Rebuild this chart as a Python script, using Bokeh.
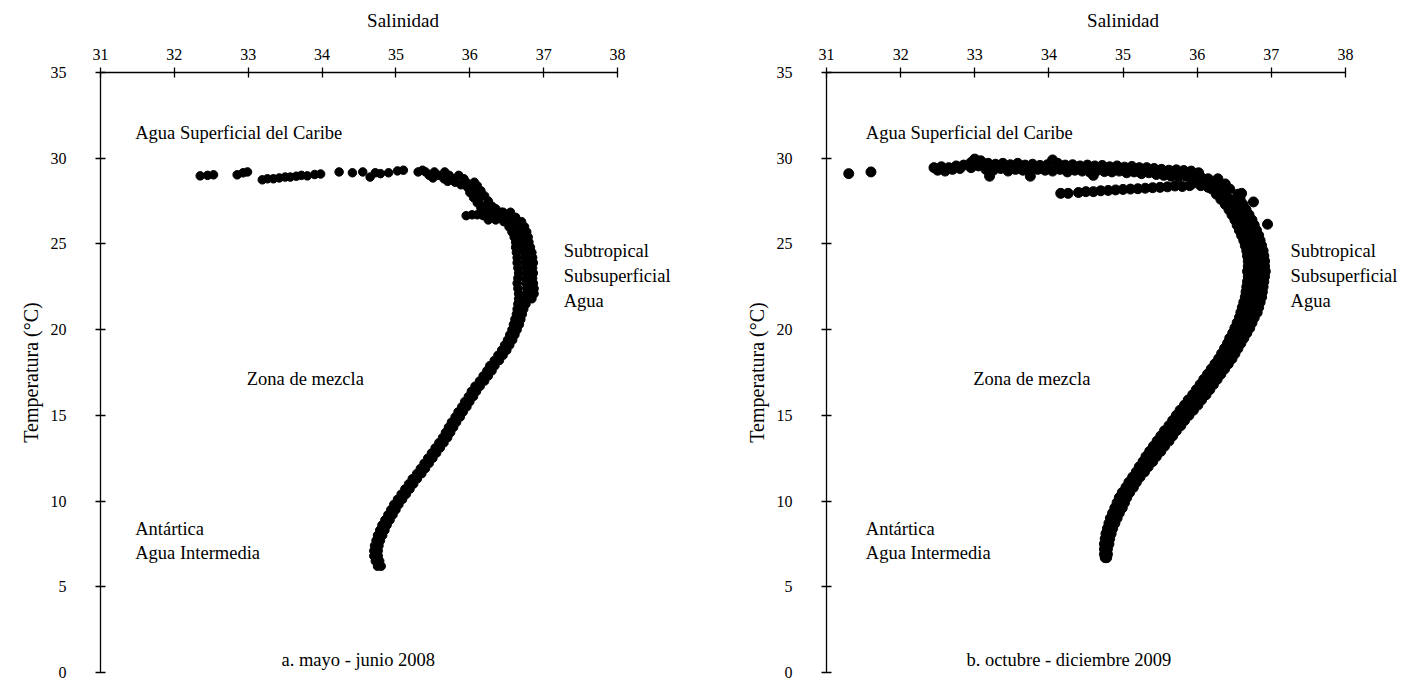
from bokeh.plotting import figure
from bokeh.models import FixedTicker, Range1d
from bokeh.layouts import row
from bokeh.core.properties import value
from bokeh.embed import file_html
from bokeh.resources import INLINE

FONT = "Liberation Serif"

# ---------------- axis ticks ----------------
sal_ticks = [31, 32, 33, 34, 35, 36, 37, 38]
temp_ticks = [0, 5, 10, 15, 20, 25, 30, 35]

# ---------------- panel a: mayo - junio 2008 ----------------
sal_a_surface = [32.35, 32.45, 32.53, 32.85, 32.93, 32.99, 33.19, 33.26, 33.34, 33.42,
                 33.50, 33.57, 33.65, 33.72, 33.80, 33.90, 33.98, 34.23, 34.41, 34.55,
                 34.65, 34.72, 34.79, 34.90, 35.02, 35.10]
temp_a_surface = [28.97, 29.00, 29.03, 29.03, 29.15, 29.20, 28.74, 28.80, 28.80, 28.85,
                  28.90, 28.90, 28.95, 29.00, 28.97, 29.05, 29.08, 29.20, 29.15, 29.20,
                  28.90, 29.15, 29.10, 29.15, 29.26, 29.30]

sal_a_upper = [35.30, 35.40, 35.52, 35.66, 35.36, 35.45, 35.58, 35.72, 35.85, 35.65,
               35.78, 35.92, 35.80, 35.95, 36.06, 35.95, 36.10, 36.03, 36.15, 36.08,
               36.20, 36.12, 36.25, 36.18, 36.30, 36.25, 36.36,
               35.50, 35.70, 35.88, 35.98, 36.00, 36.05, 36.10, 36.15, 36.35, 36.42]
temp_a_upper = [29.20, 29.20, 29.20, 29.20, 29.30, 29.00, 29.00, 29.00, 29.00, 28.80,
                28.80, 28.80, 28.60, 28.60, 28.60, 28.40, 28.40, 28.10, 28.10, 27.80,
                27.80, 27.50, 27.50, 27.20, 27.20, 26.90, 26.90,
                28.85, 28.65, 28.45, 28.25, 28.00, 27.70, 27.40, 27.10, 27.05, 26.85]

sal_a_shoulder = [35.95, 36.03, 36.10, 36.18, 36.30, 36.40, 36.50, 36.62,
                  36.25, 36.35, 36.45, 36.55, 36.45, 36.55]
temp_a_shoulder = [26.65, 26.70, 26.70, 26.65, 26.60, 26.60, 26.60, 26.55,
                   26.40, 26.40, 26.40, 26.40, 26.85, 26.85]

temp_a_core = [21.8, 22.1, 22.4, 22.7, 23.0, 23.3, 23.6, 23.9, 24.2, 24.5,
               24.8, 25.1, 25.4, 25.7, 26.0, 26.3]
sal_a_core_l = [36.66, 36.66, 36.65, 36.64, 36.65, 36.66, 36.65, 36.64, 36.64, 36.63,
                36.62, 36.62, 36.60, 36.57, 36.53, 36.46]
sal_a_core_m = [36.76, 36.77, 36.77, 36.76, 36.76, 36.77, 36.76, 36.75, 36.75, 36.74,
                36.72, 36.71, 36.70, 36.68, 36.64, 36.58]
sal_a_core_r = [36.84, 36.87, 36.87, 36.86, 36.85, 36.86, 36.85, 36.86, 36.85, 36.84,
                36.82, 36.80, 36.79, 36.77, 36.74, 36.70]

temp_a_curve = [6.2, 6.5, 6.8, 7.1, 7.4, 7.7, 8.0, 8.3, 8.6, 8.9,
                9.2, 9.5, 9.8, 10.1, 10.4, 10.7, 11.0, 11.3, 11.6, 11.9,
                12.2, 12.5, 12.8, 13.1, 13.4, 13.7, 14.0, 14.3, 14.6, 14.9,
                15.2, 15.5, 15.8, 16.1, 16.4, 16.7, 17.0, 17.3, 17.6, 17.9,
                18.2, 18.5, 18.8, 19.1, 19.4, 19.7, 20.0, 20.3, 20.6, 20.9,
                21.2, 21.5]
sal_a_left = [34.75, 34.72, 34.70, 34.70, 34.71, 34.73, 34.75, 34.78, 34.81, 34.85,
              34.89, 34.93, 34.97, 35.02, 35.07, 35.12, 35.17, 35.22, 35.28, 35.33,
              35.38, 35.43, 35.48, 35.53, 35.58, 35.63, 35.67, 35.71, 35.75, 35.80,
              35.84, 35.89, 35.93, 35.98, 36.02, 36.07, 36.13, 36.18, 36.23, 36.27,
              36.33, 36.38, 36.43, 36.47, 36.51, 36.54, 36.57, 36.59, 36.61, 36.63,
              36.64, 36.65]
sal_a_right = [34.80, 34.78, 34.76, 34.76, 34.77, 34.79, 34.82, 34.85, 34.88, 34.92,
               34.96, 35.00, 35.04, 35.09, 35.14, 35.19, 35.24, 35.29, 35.35, 35.40,
               35.45, 35.50, 35.55, 35.60, 35.65, 35.70, 35.74, 35.78, 35.82, 35.87,
               35.91, 35.96, 36.00, 36.05, 36.09, 36.14, 36.20, 36.25, 36.30, 36.34,
               36.40, 36.45, 36.50, 36.54, 36.58, 36.61, 36.64, 36.67, 36.69, 36.71,
               36.73, 36.76]

# ---------------- panel b: octubre - diciembre 2009 ----------------
sal_b_isolated = [31.30, 31.60]
temp_b_isolated = [29.10, 29.20]

sal_b_band_hi = [32.45, 32.55, 32.65, 32.75, 32.85, 32.95, 33.00, 33.08, 33.18, 33.28,
                 33.38, 33.48, 33.58, 33.68, 33.78, 33.88, 33.98, 34.05, 34.12, 34.22,
                 34.32, 34.42, 34.52, 34.62, 34.72, 34.82, 34.92, 35.02, 35.12, 35.22,
                 35.32, 35.42, 35.52, 35.62, 35.72, 35.82, 35.92, 36.02]
temp_b_band_hi = [29.45, 29.50, 29.45, 29.55, 29.60, 29.75, 29.95, 29.85, 29.70, 29.65,
                  29.70, 29.62, 29.70, 29.60, 29.65, 29.58, 29.62, 29.90, 29.70, 29.60,
                  29.62, 29.55, 29.60, 29.55, 29.58, 29.50, 29.55, 29.48, 29.52, 29.45,
                  29.45, 29.40, 29.35, 29.30, 29.32, 29.28, 29.25, 29.15]
sal_b_band_lo = [32.50, 32.60, 32.70, 32.80, 32.95, 33.05, 33.15, 33.20, 33.25, 33.35,
                 33.45, 33.55, 33.65, 33.75, 33.75, 33.85, 33.95, 34.05, 34.15, 34.25,
                 34.35, 34.45, 34.55, 34.60, 34.65, 34.75, 34.85, 34.95, 35.05, 35.15,
                 35.25, 35.35, 35.45, 35.55, 35.65, 35.75, 35.85, 35.95, 36.05, 36.12]
temp_b_band_lo = [29.30, 29.25, 29.35, 29.40, 29.45, 29.55, 29.35, 28.95, 29.30, 29.40,
                  29.25, 29.35, 29.30, 29.25, 28.95, 29.35, 29.30, 29.25, 29.35, 29.20,
                  29.30, 29.25, 29.20, 29.00, 29.28, 29.22, 29.20, 29.25, 29.15, 29.20,
                  29.10, 29.15, 29.05, 29.00, 28.95, 28.90, 28.95, 28.85, 28.90, 28.75]

sal_b_low = [34.16, 34.26, 34.40, 34.50, 34.60, 34.70, 34.80, 34.90, 35.00, 35.10,
             35.20, 35.30, 35.40, 35.50, 35.60, 35.70, 35.80, 35.90]
temp_b_low = [27.95, 27.95, 28.00, 28.05, 28.05, 28.10, 28.12, 28.15, 28.18, 28.20,
              28.22, 28.25, 28.28, 28.30, 28.33, 28.38, 28.35, 28.40]

sal_b_extra = [36.00, 36.10, 36.20, 35.95, 36.05, 36.15, 36.25, 36.30, 36.60, 36.76, 36.95]
temp_b_extra = [28.70, 28.60, 28.50, 28.55, 28.40, 28.30, 28.20, 28.00, 27.95, 27.45, 26.15]

temp_b_curve = [28.8, 28.5, 28.2, 27.9, 27.6,
                27.3, 27.0, 26.7, 26.4, 26.1,
                25.8, 25.5, 25.2, 24.9, 24.6,
                24.3, 24.0, 23.7, 23.4, 23.1,
                22.8, 22.5, 22.2, 21.9, 21.6,
                21.3, 21.0, 20.7, 20.4, 20.1,
                19.8, 19.5, 19.2, 18.9, 18.6,
                18.3, 18.0, 17.7, 17.4, 17.1,
                16.8, 16.5, 16.2, 15.9, 15.6,
                15.3, 15.0, 14.7, 14.4, 14.1,
                13.8, 13.5, 13.2, 12.9, 12.6,
                12.3, 12.0, 11.7, 11.4, 11.1,
                10.8, 10.5, 10.2, 9.9, 9.6,
                9.3, 9.0, 8.7, 8.4, 8.1,
                7.8, 7.5, 7.2, 6.9, 6.7]
sal_b_mid = [36.15, 36.25, 36.32, 36.38, 36.44,
             36.50, 36.55, 36.59, 36.63, 36.66,
             36.69, 36.72, 36.74, 36.76, 36.78,
             36.79, 36.80, 36.80, 36.80, 36.80,
             36.79, 36.78, 36.77, 36.76, 36.74,
             36.72, 36.70, 36.67, 36.64, 36.61,
             36.57, 36.53, 36.50, 36.46, 36.42,
             36.38, 36.33, 36.28, 36.23, 36.18,
             36.13, 36.08, 36.03, 35.97, 35.92,
             35.86, 35.80, 35.75, 35.70, 35.64,
             35.59, 35.54, 35.48, 35.43, 35.38,
             35.33, 35.28, 35.23, 35.18, 35.13,
             35.09, 35.04, 35.00, 34.97, 34.94,
             34.90, 34.87, 34.84, 34.82, 34.80,
             34.79, 34.78, 34.77, 34.77, 34.77]
sal_b_left = [36.02, 36.12, 36.20, 36.26, 36.32,
              36.38, 36.43, 36.47, 36.51, 36.54,
              36.57, 36.60, 36.63, 36.65, 36.67,
              36.68, 36.69, 36.69, 36.68, 36.69,
              36.68, 36.67, 36.66, 36.65, 36.63,
              36.61, 36.59, 36.57, 36.54, 36.51,
              36.48, 36.44, 36.41, 36.37, 36.33,
              36.29, 36.24, 36.19, 36.14, 36.09,
              36.04, 35.99, 35.94, 35.88, 35.83,
              35.77, 35.72, 35.67, 35.62, 35.56,
              35.51, 35.46, 35.41, 35.36, 35.31,
              35.27, 35.22, 35.18, 35.13, 35.08,
              35.04, 34.99, 34.95, 34.92, 34.89,
              34.86, 34.83, 34.81, 34.79, 34.77,
              34.76, 34.75, 34.75, 34.75, 34.76]
sal_b_right = [36.28, 36.38, 36.44, 36.55, 36.58,
               36.62, 36.66, 36.70, 36.74, 36.77,
               36.80, 36.83, 36.85, 36.87, 36.89,
               36.90, 36.91, 36.91, 36.92, 36.91,
               36.90, 36.89, 36.88, 36.87, 36.85,
               36.83, 36.81, 36.77, 36.74, 36.71,
               36.67, 36.63, 36.59, 36.55, 36.51,
               36.47, 36.42, 36.37, 36.32, 36.27,
               36.22, 36.17, 36.12, 36.06, 36.01,
               35.95, 35.89, 35.83, 35.78, 35.72,
               35.67, 35.62, 35.56, 35.51, 35.45,
               35.40, 35.34, 35.29, 35.23, 35.18,
               35.14, 35.09, 35.05, 35.02, 34.99,
               34.95, 34.92, 34.89, 34.86, 34.84,
               34.82, 34.81, 34.79, 34.79, 34.78]

# ---------------- annotations ----------------
water_labels = ["Agua Superficial del Caribe", "Subtropical", "Subsuperficial", "Agua",
                "Zona de mezcla", "Antártica", "Agua Intermedia"]
label_sal_a = [31.47, 37.27, 37.27, 37.27, 32.98, 31.47, 31.47]
label_sal_b = [31.53, 37.26, 37.26, 37.26, 32.98, 31.53, 31.53]
label_temp = [31.5, 24.6, 23.15, 21.7, 17.15, 8.4, 6.95]
captions = ["a. mayo - junio 2008", "b. octubre - diciembre 2009"]
caption_sal = [34.49, 34.27]
caption_temp = 0.75


def make_panel(left, right, frame_w, x_end):
    p = figure(frame_width=frame_w, frame_height=600,
               x_range=Range1d(31, x_end), y_range=Range1d(0, 35),
               x_axis_location="above", y_axis_location="left",
               output_backend="svg", toolbar_location=None,
               min_border_left=left, min_border_right=right,
               min_border_top=72, min_border_bottom=10,
               background_fill_color="white", border_fill_color="white")
    p.outline_line_color = None
    p.grid.visible = False
    p.xaxis.ticker = FixedTicker(ticks=sal_ticks)
    p.yaxis.ticker = FixedTicker(ticks=temp_ticks)
    p.xaxis.bounds = (31, 38)
    p.xaxis.axis_label = "Salinidad"
    p.yaxis.axis_label = "Temperatura (°C)"
    for ax in (p.xaxis, p.yaxis):
        ax.axis_line_color = "black"
        ax.axis_line_width = 1.3
        ax.major_tick_line_color = "black"
        ax.major_tick_line_width = 1.3
        ax.major_tick_in = 5
        ax.major_tick_out = 5
        ax.minor_tick_line_color = None
        ax.major_label_text_font = FONT
        ax.major_label_text_font_size = "16px"
        ax.major_label_text_color = "black"
        ax.axis_label_text_font = FONT
        ax.axis_label_text_font_style = "normal"
        ax.axis_label_text_color = "black"
    p.xaxis.axis_label_text_font_size = "19px"
    p.yaxis.axis_label_text_font_size = "20px"
    p.xaxis.major_label_standoff = 8
    p.xaxis.axis_label_standoff = 15
    p.yaxis.major_label_standoff = 29
    p.yaxis.axis_label_standoff = 6
    p.yaxis.major_label_orientation = "horizontal"
    return p


def add_texts(p, xs, caption, cx):
    p.text(x=xs, y=label_temp, text=water_labels, text_font=value(FONT),
           text_font_size=value("18.5px"), text_color="black",
           text_align="left", text_baseline="middle")
    p.text(x=[cx], y=[caption_temp], text=[caption], text_font=value(FONT),
           text_font_size=value("18.5px"), text_color="black",
           text_align="center", text_baseline="middle")


# panel a
pa = make_panel(100, 5, 605, 39.19)
for xs, ys in [(sal_a_surface, temp_a_surface), (sal_a_upper, temp_a_upper),
               (sal_a_shoulder, temp_a_shoulder),
               (sal_a_core_l, temp_a_core), (sal_a_core_m, temp_a_core), (sal_a_core_r, temp_a_core),
               (sal_a_left, temp_a_curve), (sal_a_right, temp_a_curve)]:
    pa.scatter(xs, ys, size=8.5, color="black", line_color="black")
add_texts(pa, label_sal_a, captions[0], caption_sal[0])

# panel b
pb = make_panel(116, 0, 593, 39.0)
for xs, ys in [(sal_b_isolated, temp_b_isolated), (sal_b_band_hi, temp_b_band_hi),
               (sal_b_band_lo, temp_b_band_lo), (sal_b_low, temp_b_low),
               (sal_b_extra, temp_b_extra),
               (sal_b_left, temp_b_curve), (sal_b_mid, temp_b_curve), (sal_b_right, temp_b_curve)]:
    pb.scatter(xs, ys, size=10, color="black", line_color="black")
add_texts(pb, label_sal_b, captions[1], caption_sal[1])

layout = row(pa, pb, spacing=0)
open("out.html", "w").write(file_html(layout, INLINE))
